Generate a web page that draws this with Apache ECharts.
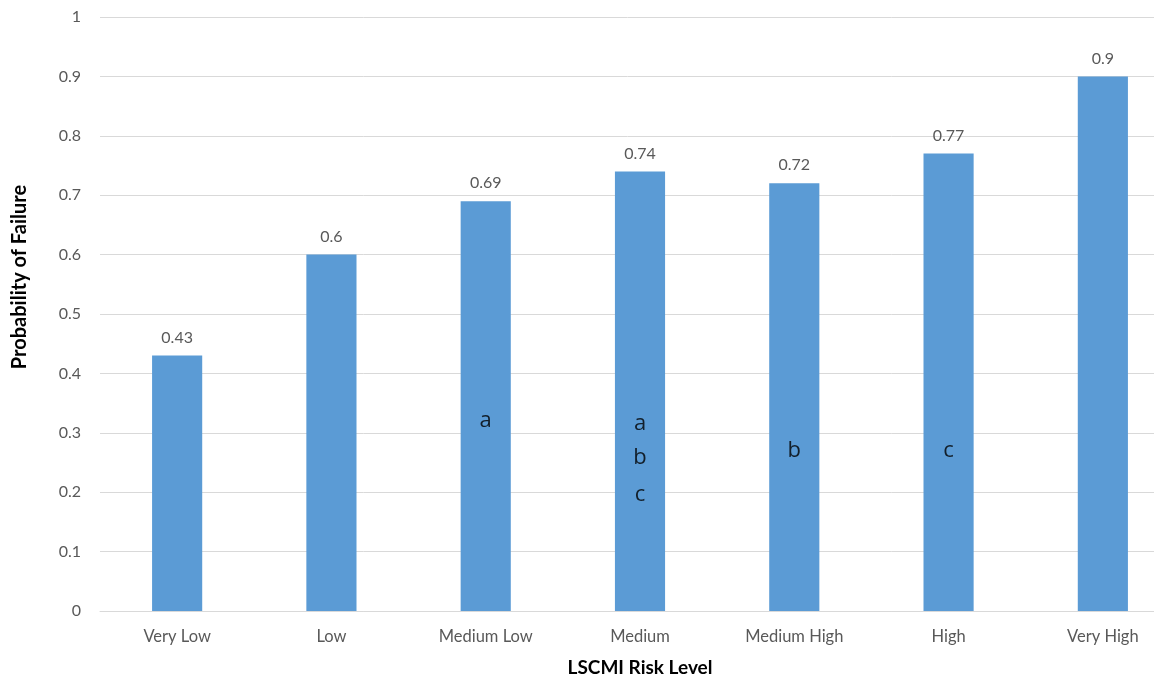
<!DOCTYPE html>
<html>
<head>
<meta charset="utf-8">
<script src="https://cdn.jsdelivr.net/npm/echarts@6/dist/echarts.min.js"></script>
<style>html,body{margin:0;padding:0;background:#fff;overflow:hidden;}#c{width:1154px;height:677px;}</style>
</head>
<body>
<div id="c"></div>
<script>
const categories = ['Very Low','Low','Medium Low','Medium','Medium High','High','Very High'];
const probabilities = [0.43, 0.6, 0.69, 0.74, 0.72, 0.77, 0.9];
const letterCats = ['Medium Low','Medium','Medium','Medium','Medium High','High'];
const letterVals = [0.32, 0.316, 0.258, 0.195, 0.27, 0.27];
const letterTexts = ['a','a','b','c','b','c'];
const yTicks = [0,0.1,0.2,0.3,0.4,0.5,0.6,0.7,0.8,0.9,1];

const font = 'Lato, "Liberation Sans", sans-serif';
const chart = echarts.init(document.getElementById('c'));
chart.setOption({
  animation: false,
  grid: {left: 100, right: -26, top: 17, bottom: 66, containLabel: false, outerBoundsMode: 'none'},
  xAxis: {
    type: 'category', data: categories,
    axisLine: {lineStyle: {color: '#D9D9D9', width: 1}},
    axisTick: {show: false},
    axisLabel: {color: '#595959', fontSize: 16.5, fontFamily: font, margin: 17},
    name: 'LSCMI Risk Level', nameLocation: 'middle', nameGap: 47,
    nameTextStyle: {color: '#000', fontSize: 19, fontWeight: 'bold', fontFamily: font}
  },
  yAxis: {
    type: 'value', min: 0, max: 1, interval: 0.1,
    axisLine: {show: false}, axisTick: {show: false},
    splitLine: {lineStyle: {color: '#D9D9D9', width: 1}},
    axisLabel: {color: '#595959', fontSize: 16, fontFamily: font, margin: 19,
      formatter: v => { const t = yTicks.find(x => Math.abs(x - v) < 1e-9); return String(t !== undefined ? t : +v.toFixed(1)); }},
    name: 'Probability of Failure', nameLocation: 'middle', nameGap: 70,
    nameTextStyle: {color: '#000', fontSize: 20, fontWeight: 'bold', fontFamily: font, padding: [0, 0, 0, 74]}
  },
  series: [
    {
      type: 'bar', data: probabilities, barWidth: '32.5%',
      itemStyle: {color: '#5B9BD5'},
      label: {show: true, position: 'top', distance: 10, color: '#595959', fontSize: 16, fontFamily: font}
    },
    {
      type: 'scatter', symbolSize: 0, z: 5,
      data: letterCats.map((c, i) => ({value: [c, letterVals[i]], txt: letterTexts[i]})),
      label: {show: true, position: 'inside', formatter: p => p.data.txt, color: '#000', fontSize: 22, fontFamily: 'Open Sans, sans-serif'}
    }
  ]
});
</script>
</body>
</html>
